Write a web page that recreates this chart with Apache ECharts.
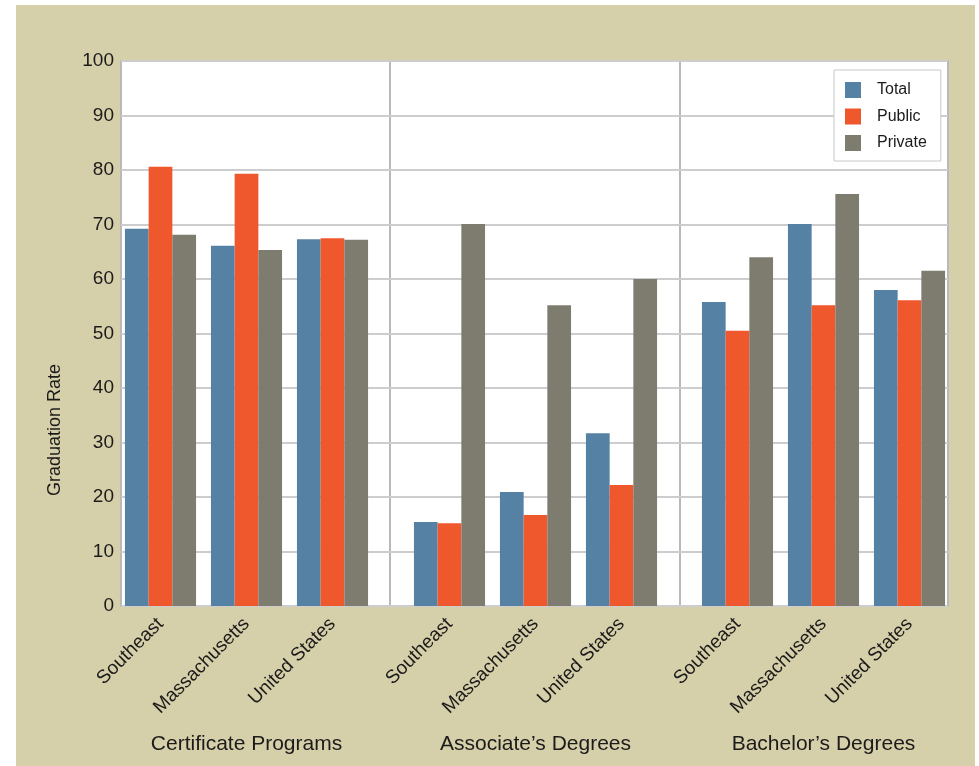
<!DOCTYPE html>
<html>
<head>
<meta charset="utf-8">
<script src="https://cdn.jsdelivr.net/npm/echarts@6/dist/echarts.min.js"></script>
<style>
html, body { margin: 0; padding: 0; background: #fff; }
#panel { position: absolute; left: 16px; top: 5px; width: 959px; height: 761px; background: #d5d0aa; }
#main { position: absolute; left: 0; top: 0; width: 979px; height: 766px; }
</style>
</head>
<body>
<div id="panel"></div>
<div id="main"></div>
<script>
const groups = ['Certificate Programs', 'Associate\u2019s Degrees', 'Bachelor\u2019s Degrees'];
const regions = ['Southeast', 'Massachusetts', 'United States'];
const seriesNames = ['Total', 'Public', 'Private'];

// values per group, in the order of regions
const certTotal = [69.2, 66.1, 67.3];
const certPublic = [80.6, 79.3, 67.5];
const certPrivate = [68.1, 65.3, 67.2];
const assocTotal = [15.4, 20.9, 31.7];
const assocPublic = [15.2, 16.7, 22.2];
const assocPrivate = [70.1, 55.2, 60.0];
const bachTotal = [55.8, 70.1, 58.0];
const bachPublic = [50.5, 55.2, 56.1];
const bachPrivate = [64.0, 75.6, 61.5];

const groupData = [
    [certTotal, certPublic, certPrivate],
    [assocTotal, assocPublic, assocPrivate],
    [bachTotal, bachPublic, bachPrivate]
];
const colors = ['#5581a4', '#ef572c', '#7d7c6f'];
const font = "'Liberation Sans', Arial, Helvetica, sans-serif";
const textColor = '#1c1a1a';

// frame panels (white boxes) and the grids that hold the bars
const frameLeft = [121, 390, 680];
const frameWidth = [269, 290, 268];
const barLeft = [117.5, 406.5, 694.5];

let grid = [];
let xAxis = [];
let yAxis = [];
let series = [];

for (let i = 0; i < 3; i++) {
    grid.push({
        left: frameLeft[i], top: 61, width: frameWidth[i], height: 545,
        show: true, backgroundColor: '#fff', borderColor: '#b9b9bd', borderWidth: 2
    });
    xAxis.push({type: 'category', gridIndex: i, data: [''], show: false});
    yAxis.push({
        type: 'value', gridIndex: i, min: 0, max: 100, interval: 10,
        axisLine: {show: false},
        axisTick: {show: false},
        splitLine: {lineStyle: {color: '#cdcdd0', width: 2}},
        axisLabel: {show: i === 0, fontSize: 19, color: textColor, fontFamily: font, margin: 7}
    });
}

for (let i = 0; i < 3; i++) {
    grid.push({left: barLeft[i], top: 61, width: 258, height: 545});
    xAxis.push({
        type: 'category', gridIndex: 3 + i, data: regions,
        axisLine: {show: false},
        axisTick: {show: false},
        axisLabel: {rotate: 45, interval: 0, fontSize: 19, color: textColor, fontFamily: font, margin: 15},
        name: groups[i],
        nameLocation: 'middle',
        nameGap: 128,
        nameTextStyle: {fontSize: 21, color: textColor, fontFamily: font}
    });
    yAxis.push({type: 'value', gridIndex: 3 + i, min: 0, max: 100, show: false});
    for (let s = 0; s < 3; s++) {
        series.push({
            name: seriesNames[s],
            type: 'bar',
            xAxisIndex: 3 + i,
            yAxisIndex: 3 + i,
            barWidth: 23.7,
            barGap: '0%',
            data: groupData[i][s],
            itemStyle: {color: colors[s]}
        });
    }
}

let option = {
    animation: false,
    color: colors,
    grid: grid,
    xAxis: xAxis,
    yAxis: yAxis,
    legend: {
        data: seriesNames,
        orient: 'vertical',
        left: 834,
        top: 70,
        itemWidth: 16,
        itemHeight: 16,
        itemGap: 10.5,
        icon: 'rect',
        backgroundColor: '#fff',
        borderColor: '#c8c8c8',
        borderWidth: 1,
        padding: [12, 14, 10, 11],
        textStyle: {fontSize: 16, color: textColor, fontFamily: font, padding: [2, 0, 0, 11]}
    },
    graphic: [{
        type: 'text',
        x: 55,
        y: 430,
        rotation: Math.PI / 2,
        style: {
            text: 'Graduation Rate',
            fontSize: 18,
            fontFamily: font,
            fill: textColor,
            textAlign: 'center',
            textVerticalAlign: 'middle'
        }
    }],
    series: series
};

let myChart = echarts.init(document.getElementById('main'));
myChart.setOption(option);
</script>
</body>
</html>
